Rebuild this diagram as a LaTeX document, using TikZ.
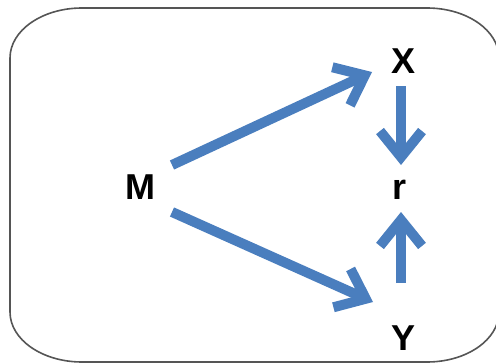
\documentclass[tikz,border=0pt]{standalone}
\usepackage{fontspec}
\setmainfont{Liberation Sans}
\usetikzlibrary{arrows.meta,calc}
\definecolor{arrowblue}{RGB}{74,126,190}
\definecolor{framegray}{RGB}{85,85,85}
\tikzset{
  varlabel/.style={font=\fontsize{36}{42}\selectfont\bfseries, inner sep=0pt, text=black},
  flow/.style={draw=arrowblue, line width=10pt,
    -{Straight Barb[length=26pt, width=42pt, line width=10pt]}},
}
\begin{document}
\begin{tikzpicture}[x=1pt, y=-1pt]
  \useasboundingbox (0,0) rectangle (496,364);
  \begin{scope}
    \clip (0,0) rectangle (496,364);
    % rounded frame with slightly elliptical corners (y axis points down)
    \draw[framegray, line width=1.6pt]
      (10,58) -- (10,312)
      arc[start angle=180, end angle=90, x radius=72, y radius=50]
      -- (427,362)
      arc[start angle=90, end angle=0, x radius=72, y radius=50]
      -- (499,58)
      arc[start angle=360, end angle=270, x radius=72, y radius=50]
      -- (82,8)
      arc[start angle=270, end angle=180, x radius=72, y radius=50]
      -- cycle;
  \end{scope}

  \node[varlabel] (M) at (140,187) {M};
  \node[varlabel] (X) at (404,61) {X};
  \node[varlabel] (r) at (400,190) {r};
  \node[varlabel] (Y) at (404,338) {Y};

  \draw[flow] ($(M)+(32,-22)$) -- ($(X)+(-32,11)$);
  \draw[flow] ($(M)+(32,25)$) -- ($(Y)+(-31,-36)$);
  \draw[flow] ($(X)+(-3,25)$) -- ($(r)+(1,-25)$);
  \draw[flow] ($(Y)+(-3,-55)$) -- ($(r)+(1,22)$);
\end{tikzpicture}
\end{document}
